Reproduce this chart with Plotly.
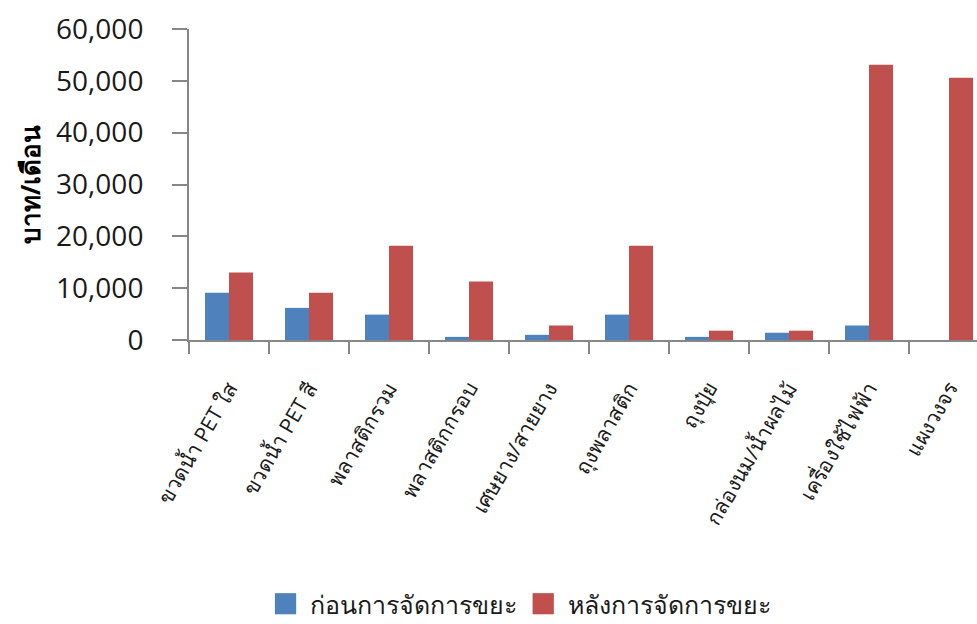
import plotly.graph_objects as go

# Waste categories and monthly value (baht/month) before and after waste management
categories = [
    "ขวดน้ำ PET ใส",
    "ขวดน้ำ PET สี",
    "พลาสติกรวม",
    "พลาสติกกรอบ",
    "เศษยาง/สายยาง",
    "ถุงพลาสติก",
    "ถุงปุ๋ย",
    "กล่องนม/น้ำผลไม้",
    "เครื่องใช้ไฟฟ้า",
    "แผงวงจร",
]
before = [9100, 6200, 4900, 600, 1000, 4900, 600, 1400, 2800, 0]
after = [13000, 9100, 18200, 11300, 2800, 18200, 1800, 1800, 53100, 50600]

series_names = ["ก่อนการจัดการขยะ", "หลังการจัดการขยะ"]
series_colors = ["#4F81BD", "#C0504D"]

y_ticks = [0, 10000, 20000, 30000, 40000, 50000, 60000]
y_title = "บาท/เดือน"

FONT = "Open Sans"
AXIS_GRAY = "#868686"
TEXT = "#1a1a1a"

fig = go.Figure()
for name, vals, color in zip(series_names, [before, after], series_colors):
    fig.add_trace(go.Bar(
        x=categories, y=vals, name=name,
        marker=dict(color=color, line=dict(width=0)),
        showlegend=False,
    ))

fig.update_layout(
    width=977, height=624,
    margin=dict(l=189, r=0, t=29, b=284),
    paper_bgcolor="white", plot_bgcolor="white",
    barmode="group", bargap=0.4, bargroupgap=0,
    font=dict(family=FONT, color=TEXT),
)

fig.update_xaxes(
    type="category",
    range=[-0.5, 9.35],
    showline=True, linecolor=AXIS_GRAY, linewidth=2,
    ticks="outside", tickson="boundaries", ticklen=12, tickwidth=2, tickcolor=AXIS_GRAY,
    tickangle=-60, tickfont=dict(size=21, family=FONT, color=TEXT),
    ticklabelstandoff=26,
    showgrid=False, zeroline=False,
)

fig.update_yaxes(
    range=[0, 60000],
    tickvals=y_ticks, tickformat=",d",
    showline=True, linecolor=AXIS_GRAY, linewidth=2,
    ticks="outside", ticklen=15, tickwidth=2, tickcolor=AXIS_GRAY,
    tickfont=dict(size=28, family=FONT, color=TEXT),
    ticklabelstandoff=23,
    showgrid=False, zeroline=False,
    title=dict(text="<b>" + y_title + "</b>", font=dict(size=26, family=FONT, color="#000000"), standoff=8),
)

# Legend drawn below the axis labels: a swatch plus its series name
legend_items = [(0.109, 0.151), (0.436, 0.479)]
for (sx, tx), name, color in zip(legend_items, series_names, series_colors):
    fig.add_shape(
        type="rect", xref="paper", yref="paper",
        x0=sx, x1=sx + 0.027, y0=-0.814, y1=-0.882,
        fillcolor=color, line=dict(width=0),
    )
    fig.add_annotation(
        xref="paper", yref="paper", x=tx, y=-0.85,
        xanchor="left", yanchor="middle", showarrow=False,
        text=name, font=dict(size=25, family=FONT, color=TEXT),
    )

fig.write_html("out.html")
